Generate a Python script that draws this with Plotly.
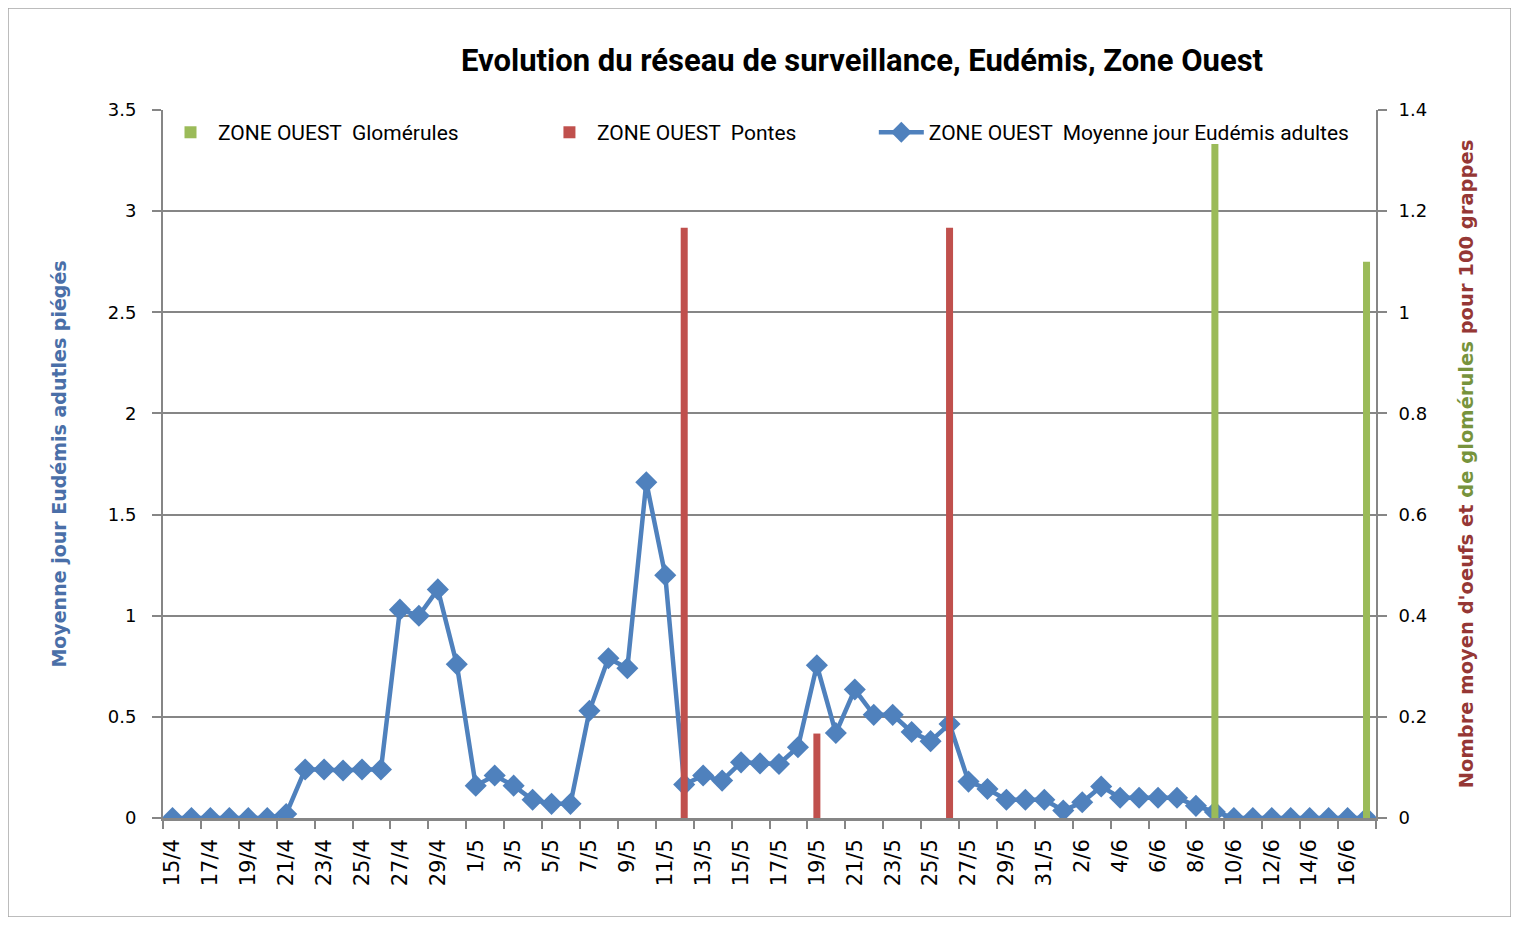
import plotly.graph_objects as go

# categories: one per day, 15/4 -> 17/6
dates = [
    "15/4", "16/4", "17/4", "18/4", "19/4", "20/4", "21/4", "22/4", "23/4", "24/4",
    "25/4", "26/4", "27/4", "28/4", "29/4", "30/4", "1/5", "2/5", "3/5", "4/5",
    "5/5", "6/5", "7/5", "8/5", "9/5", "10/5", "11/5", "12/5", "13/5", "14/5",
    "15/5", "16/5", "17/5", "18/5", "19/5", "20/5", "21/5", "22/5", "23/5", "24/5",
    "25/5", "26/5", "27/5", "28/5", "29/5", "30/5", "31/5", "1/6", "2/6", "3/6",
    "4/6", "5/6", "6/6", "7/6", "8/6", "9/6", "10/6", "11/6", "12/6", "13/6",
    "14/6", "15/6", "16/6", "17/6",
]

# Moyenne jour Eudémis adultes (left axis)
adultes = [
    0, 0, 0, 0, 0, 0, 0.02, 0.24, 0.24, 0.235,
    0.24, 0.24, 1.03, 1.0, 1.13, 0.76, 0.16, 0.21, 0.16, 0.09,
    0.07, 0.07, 0.53, 0.79, 0.74, 1.66, 1.2, 0.165, 0.21, 0.185,
    0.275, 0.27, 0.267, 0.35, 0.755, 0.42, 0.635, 0.51, 0.51, 0.425,
    0.38, 0.465, 0.18, 0.143, 0.09, 0.09, 0.09, 0.037, 0.078, 0.156,
    0.1, 0.1, 0.1, 0.1, 0.06, 0.03, 0, 0, 0, 0,
    0, 0, 0, 0,
]

# Pontes and Glomérules (right axis)
pontes_dates = ["12/5", "19/5", "26/5"]
pontes_values = [1.167, 0.167, 1.167]
glom_dates = ["9/6", "17/6"]
glom_values = [1.333, 1.1]

BLUE = "#4F81BD"
RED = "#C0504D"
GREEN = "#9BBB59"
GRID = "#868686"
FONT = "DejaVu Sans"
NARROW = "Liberation Sans Narrow, Roboto, Open Sans"

# page body has an 8px margin, so the figure is 1504x909 starting at (8, 8)
W, H = 1504, 909
L, T = 155, 102
PW, PH = 1213, 708
R, B = W - L - PW, H - T - PH

fig = go.Figure()

fig.add_trace(go.Bar(
    x=glom_dates, y=glom_values, yaxis="y2",
    name="ZONE OUEST  Glomérules", legend="legend", showlegend=True,
    marker=dict(color=GREEN, line=dict(width=0)),
    width=0.37,
))
fig.add_trace(go.Bar(
    x=pontes_dates, y=pontes_values, yaxis="y2",
    name="ZONE OUEST  Pontes", legend="legend2", showlegend=True,
    marker=dict(color=RED, line=dict(width=0)),
    width=0.37,
))
fig.add_trace(go.Scatter(
    x=dates, y=adultes, yaxis="y",
    name="ZONE OUEST  Moyenne jour Eudémis adultes", legend="legend3", showlegend=True,
    mode="lines+markers",
    line=dict(color=BLUE, width=4.5),
    marker=dict(symbol="diamond", size=17, color=BLUE),
))

right_title = (
    "<span style='color:#953735'>Nombre moyen d'oeufs et </span>"
    "<span style='color:#77933C'>de glomérules</span>"
    "<span style='color:#953735'> pour 100 grappes</span>"
)


def legend_at(x):
    return dict(
        orientation="h", x=x, y=0.997, xanchor="left", yanchor="top",
        font=dict(family=NARROW, size=21, color="black"),
        bgcolor="rgba(0,0,0,0)",
        itemwidth=45,
    )


fig.update_layout(
    width=W, height=H,
    paper_bgcolor="white", plot_bgcolor="white",
    margin=dict(l=L, r=R, t=T, b=B),
    barmode="overlay",
    showlegend=True,
    title=dict(
        text="<b>Evolution du réseau de surveillance, Eudémis, Zone Ouest</b>",
        x=(L + 699) / W, xanchor="center", y=1 - 52 / H, yanchor="middle",
        font=dict(family=NARROW, size=31, color="black"),
    ),
    legend=legend_at(0.0),
    legend2=legend_at(0.3124),
    legend3=legend_at(0.586),
    xaxis=dict(
        type="category",
        categoryorder="array", categoryarray=dates,
        range=[-0.5, len(dates) - 0.5],
        tickmode="linear", tick0=0, dtick=2,
        tickson="boundaries",
        ticks="outside", ticklen=8, tickcolor=GRID, tickwidth=1.5,
        tickangle=-90,
        ticklabelstandoff=10,
        tickfont=dict(family=FONT, size=21, color="black"),
        showline=True, linecolor=GRID, linewidth=2.5,
        showgrid=False, zeroline=False,
    ),
    yaxis=dict(
        range=[0, 3.5], dtick=0.5,
        tickformat="~g",
        ticks="outside", ticklen=9, tickcolor=GRID, tickwidth=1.5,
        ticklabelstandoff=12,
        tickfont=dict(family=FONT, size=18, color="black"),
        showline=True, linecolor=GRID, linewidth=2,
        showgrid=True, gridcolor=GRID, gridwidth=1.5,
        zeroline=False,
        title=dict(
            text="<b>Moyenne jour Eudémis adutles piégés</b>",
            font=dict(family=FONT, size=19, color="#4A6FA8"),
            standoff=36,
        ),
    ),
    yaxis2=dict(
        range=[0, 1.4], dtick=0.2,
        tickformat="~g",
        overlaying="y", side="right",
        ticks="outside", ticklen=9, tickcolor=GRID, tickwidth=1.5,
        ticklabelstandoff=8,
        tickfont=dict(family=FONT, size=18, color="black"),
        showline=True, linecolor=GRID, linewidth=2,
        showgrid=False, zeroline=False,
        title=dict(
            text="<b>" + right_title + "</b>",
            font=dict(family=FONT, size=19.5),
            standoff=33,
        ),
    ),
    shapes=[dict(
        type="rect", xref="paper", yref="paper",
        x0=-L / PW, x1=(PW + R - 1) / PW, y0=-B / PH, y1=(PH + T) / PH,
        line=dict(color="#A6A6A6", width=1.5),
    )],
)

fig.write_html("out.html")
